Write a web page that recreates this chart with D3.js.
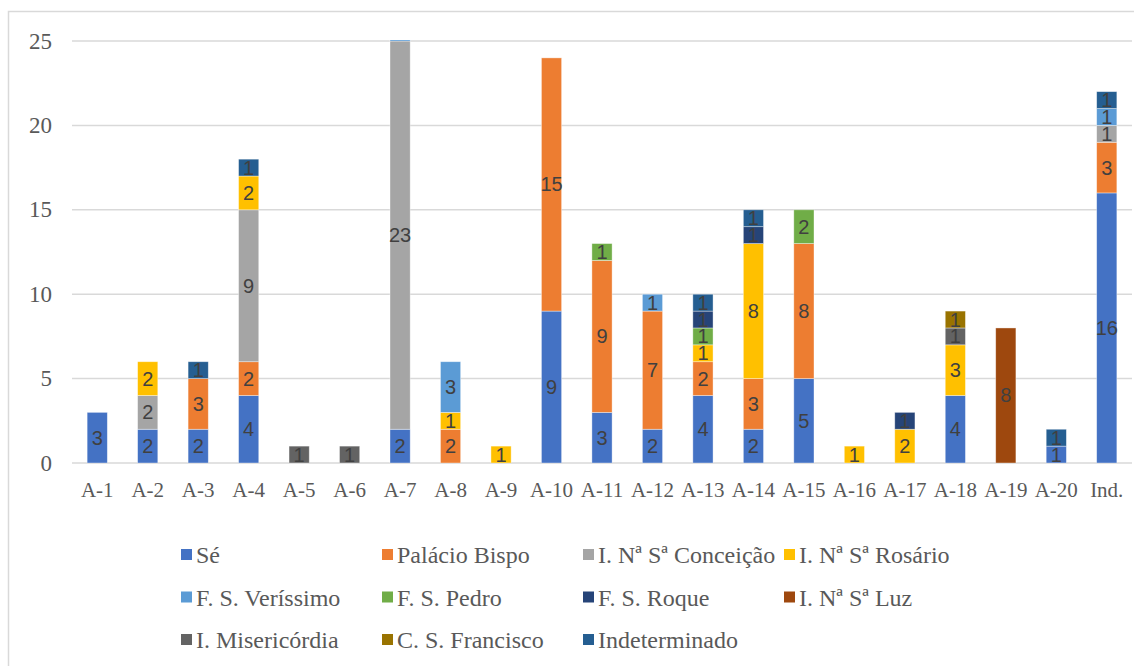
<!DOCTYPE html>
<html><head><meta charset="utf-8">
<script src="https://cdn.jsdelivr.net/npm/d3@7"></script>
<style>body{margin:0;background:#fff}svg{display:block}
.serif{font-family:"Liberation Serif","Times New Roman",Times,serif;}
.sans{font-family:"Liberation Sans",Arial,sans-serif;}
</style>
</head><body>
<svg id="c" width="1134" height="666"></svg>
<script>
const categories = ["A-1","A-2","A-3","A-4","A-5","A-6","A-7","A-8","A-9","A-10","A-11","A-12","A-13","A-14","A-15","A-16","A-17","A-18","A-19","A-20","Ind."];
const seriesNames = ["Sé","Palácio Bispo","I. Nª Sª Conceição","I. Nª Sª Rosário","F. S. Veríssimo","F. S. Pedro","F. S. Roque","I. Nª Sª Luz","I. Misericórdia","C. S. Francisco","Indeterminado"];
const colors = ["#4472C4","#ED7D31","#A5A5A5","#FFC000","#5B9BD5","#70AD47","#264478","#9E480E","#636363","#997300","#255E91"];
// values per series, aligned with categories
const se           = [3,2,2,4,0,0,2,0,0,9,3,2,4,2,5,0,0,4,0,1,16];
const palacio      = [0,0,3,2,0,0,0,2,0,15,9,7,2,3,8,0,0,0,0,0,3];
const conceicao    = [0,2,0,9,0,0,23,0,0,0,0,0,0,0,0,0,0,0,0,0,1];
const rosario      = [0,2,0,2,0,0,0,1,1,0,0,0,1,8,0,1,2,3,0,0,0];
const verissimo    = [0,0,0,0,0,0,1,3,0,0,0,1,0,0,0,0,0,0,0,0,1];
const pedro        = [0,0,0,0,0,0,0,0,0,0,1,0,1,0,2,0,0,0,0,0,0];
const roque        = [0,0,0,0,0,0,0,0,0,0,0,0,1,1,0,0,1,0,0,0,0];
const luz          = [0,0,0,0,0,0,0,0,0,0,0,0,0,0,0,0,0,0,8,0,0];
const misericordia = [0,0,0,0,1,1,0,0,0,0,0,0,0,0,0,0,0,1,0,0,0];
const francisco    = [0,0,0,0,0,0,0,0,0,0,0,0,0,0,0,0,0,1,0,0,0];
const indeterminado= [0,0,1,1,0,0,0,0,0,0,0,0,1,1,0,0,0,0,0,1,1];
const yTicks = [0,5,10,15,20,25];

const seriesValues = [se,palacio,conceicao,rosario,verissimo,pedro,roque,luz,misericordia,francisco,indeterminado];
const table = categories.map((c,i)=>{const o={cat:c}; seriesNames.forEach((s,j)=>o[s]=seriesValues[j][i]); return o;});

const svg = d3.select("#c");
const L=72, R=1132, T=41, B=463;
const x = d3.scaleBand().domain(categories).range([L,R]).paddingInner(0.6).paddingOuter(0.3);
const y = d3.scaleLinear().domain([0,25]).range([B,T]);

// outer border
svg.append("rect").attr("x",8.5).attr("y",11.5).attr("width",1300).attr("height",1000)
  .attr("fill","none").attr("stroke","#d9d9d9").attr("stroke-width",1.5);

// gridlines
svg.append("g").selectAll("line").data(yTicks).join("line")
  .attr("x1",L).attr("x2",R).attr("y1",d=>y(d)).attr("y2",d=>y(d))
  .attr("stroke","#d9d9d9").attr("stroke-width",1.5);

// y labels
svg.append("g").selectAll("text").data(yTicks).join("text").attr("class","serif")
  .attr("x",52).attr("y",d=>y(d)).attr("text-anchor","end").attr("dominant-baseline","central")
  .attr("font-size",23).attr("fill","#595959").text(d=>d);

// x labels
svg.append("g").selectAll("text").data(categories).join("text").attr("class","serif")
  .attr("x",d=>x(d)+x.bandwidth()/2).attr("y",490).attr("text-anchor","middle").attr("dominant-baseline","central")
  .attr("font-size",21).attr("fill","#595959").text(d=>d);

svg.append("clipPath").attr("id","plot").append("rect").attr("x",L).attr("y",T-1).attr("width",R-L).attr("height",B-T+1);

const stack = d3.stack().keys(seriesNames)(table);
const layers = svg.append("g").attr("clip-path","url(#plot)").selectAll("g").data(stack).join("g")
  .attr("fill",(d,i)=>colors[i]);
layers.selectAll("rect").data(d=>d.filter(p=>p[1]-p[0]>0)).join("rect")
  .attr("x",d=>x(d.data.cat)).attr("width",x.bandwidth())
  .attr("y",d=>y(d[1])).attr("height",d=>y(d[0])-y(d[1]))
  .attr("stroke","#ffffff").attr("stroke-opacity",0.5).attr("stroke-width",0.75);

// data labels
const lab = svg.append("g");
stack.forEach(layer=>{
  layer.filter(p=>p[1]-p[0]>0 && (p[0]+p[1])/2 <= 25).forEach(p=>{
    lab.append("text").attr("class","sans").attr("x",x(p.data.cat)+x.bandwidth()/2).attr("y",y((p[0]+p[1])/2))
      .attr("text-anchor","middle").attr("dominant-baseline","central")
      .attr("font-size",20).attr("fill","#404040")
      .text(p[1]-p[0]);
  });
});

// legend
const lg = svg.append("g");
seriesNames.forEach((s,i)=>{
  const col=i%4, row=Math.floor(i/4);
  const lx=181+col*201, ly=555+row*42.5;
  lg.append("rect").attr("x",lx).attr("y",ly-6).attr("width",11).attr("height",11).attr("fill",colors[i]);
  lg.append("text").attr("class","serif").attr("x",lx+15).attr("y",ly).attr("dominant-baseline","central")
    .attr("font-size",24).attr("fill","#595959").text(s);
});
</script>
</body></html>
